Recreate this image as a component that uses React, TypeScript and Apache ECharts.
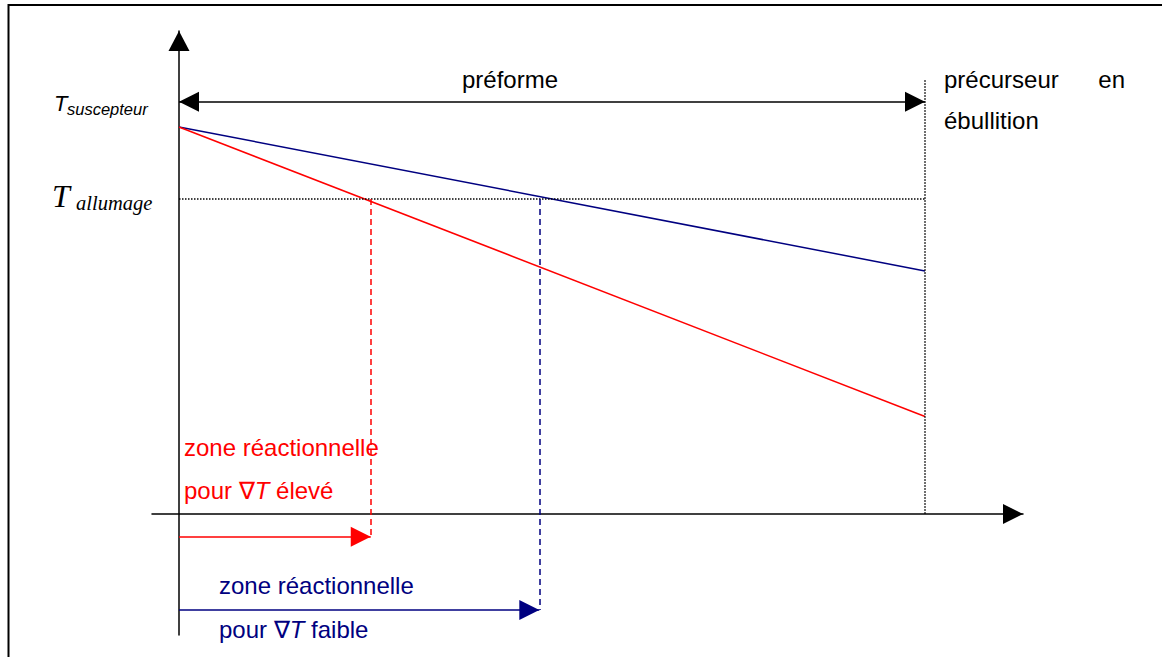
import React, { useEffect, useRef } from "react";
import * as echarts from "echarts";

// Position along the preform (% of length, 0 = susceptor, 100 = boiling precursor)
const positionsPct = [0, 100];
// Temperature profiles (relative units, 100 = T susceptor)
const tempHighGradient = [100, 25.2];
const tempLowGradient = [100, 62.8];
const tSusceptor = 100;
const tIgnition = 81.4;
// Ignition positions (where each profile reaches T allumage)
const ignitionHighX = 25.7;
const ignitionLowX = 48.3;
// Levels of the annotation arrows
const zoneHighLevel = -5.9;
const zoneLowLevel = -24.8;
const preformArrowLevel = 106.5;
const boilingBoundaryTop = 112.1;
// Axis extents
const xExtent = [-3.62, 113.14];
const yExtent = [-31.27, 124.8];

const RED = "#ff0000";
const BLUE = "#000080";
const BLACK = "#000000";
const SANS = "'Liberation Sans', Arial, sans-serif";
const SERIF = "'Liberation Serif', 'Times New Roman', serif";
const FS = 24;

type Pt = [number, number];

function markSeries(
  name: string,
  color: string,
  lineType: any,
  symbol: [string, string],
  lines: [Pt, Pt][],
  width = 1.5
) {
  return {
    type: "line",
    name,
    data: [],
    silent: true,
    clip: false,
    markLine: {
      silent: true,
      animation: false,
      symbol,
      symbolSize: [20, 20],
      symbolOffset: [
        [0, 10],
        [0, 10],
      ],
      label: { show: false },
      emphasis: { disabled: true },
      lineStyle: { color, type: lineType, width },
      itemStyle: { color },
      data: lines.map(([a, b]) => [{ coord: a }, { coord: b }]),
    },
  };
}

export default function App() {
  const ref = useRef<HTMLDivElement>(null);

  useEffect(() => {
    if (!ref.current) return;
    const chart = echarts.init(ref.current, null, { renderer: "svg" });

    const axisCommon = {
      type: "value",
      axisTick: { show: false },
      axisLabel: { show: false },
      splitLine: { show: false },
    };

    const option: any = {
      animation: false,
      backgroundColor: "#ffffff",
      grid: { left: 152, right: 139, top: 31, bottom: 22, containLabel: false },
      xAxis: {
        ...axisCommon,
        min: xExtent[0],
        max: xExtent[1],
        axisLine: {
          show: true,
          onZero: true,
          symbol: ["none", "triangle"],
          symbolSize: [20, 20],
          symbolOffset: [0, -10],
          lineStyle: { color: BLACK, width: 1.5 },
        },
      },
      yAxis: {
        ...axisCommon,
        min: yExtent[0],
        max: yExtent[1],
        axisLine: {
          show: true,
          onZero: true,
          symbol: ["none", "triangle"],
          symbolSize: [21, 20],
          symbolOffset: [0, -10],
          lineStyle: { color: BLACK, width: 1.5 },
        },
      },
      series: [
        {
          type: "line",
          name: "∇T faible",
          data: positionsPct.map((x, i) => [x, tempLowGradient[i]]),
          symbol: "none",
          silent: true,
          clip: false,
          lineStyle: { color: BLUE, width: 1.5 },
        },
        {
          type: "line",
          name: "∇T élevé",
          data: positionsPct.map((x, i) => [x, tempHighGradient[i]]),
          symbol: "none",
          silent: true,
          clip: false,
          lineStyle: { color: RED, width: 1.5 },
        },
        markSeries("seuils", BLACK, [1.5, 1.5], ["none", "none"], [
          [
            [positionsPct[0], tIgnition],
            [positionsPct[1], tIgnition],
          ],
          [
            [positionsPct[1], boilingBoundaryTop],
            [positionsPct[1], 0],
          ],
        ]),
        markSeries("préforme", BLACK, "solid", ["triangle", "triangle"], [
          [
            [positionsPct[0], preformArrowLevel],
            [positionsPct[1], preformArrowLevel],
          ],
        ]),
        markSeries("allumage élevé", RED, [6, 4], ["none", "none"], [
          [
            [ignitionHighX, tIgnition],
            [ignitionHighX, zoneHighLevel],
          ],
        ]),
        markSeries("allumage faible", BLUE, [6, 4], ["none", "none"], [
          [
            [ignitionLowX, tIgnition],
            [ignitionLowX, zoneLowLevel],
          ],
        ]),
        markSeries("zone élevé", RED, "solid", ["none", "triangle"], [
          [
            [positionsPct[0], zoneHighLevel],
            [ignitionHighX, zoneHighLevel],
          ],
        ]),
        markSeries("zone faible", BLUE, "solid", ["none", "triangle"], [
          [
            [positionsPct[0], zoneLowLevel],
            [ignitionLowX, zoneLowLevel],
          ],
        ]),
      ],
      graphic: [
        {
          type: "rect",
          silent: true,
          z: -10,
          shape: { x: 8.5, y: 5, width: 1180, height: 720 },
          style: { fill: "none", stroke: BLACK, lineWidth: 2 },
        },
        {
          type: "text",
          x: 54,
          y: 103.5,
          style: {
            text: "T",
            fontFamily: SANS,
            fontStyle: "italic",
            fontSize: 22,
            fill: BLACK,
            verticalAlign: "middle",
          },
        },
        {
          type: "text",
          x: 67,
          y: 108.5,
          style: {
            text: "suscepteur",
            fontFamily: SANS,
            fontStyle: "italic",
            fontSize: 16.5,
            fill: BLACK,
            verticalAlign: "middle",
          },
        },
        {
          type: "text",
          x: 52,
          y: 196,
          style: {
            text: "T",
            fontFamily: SERIF,
            fontStyle: "italic",
            fontSize: 32,
            fill: BLACK,
            verticalAlign: "middle",
          },
        },
        {
          type: "text",
          x: 76,
          y: 203,
          style: {
            text: "allumage",
            fontFamily: SERIF,
            fontStyle: "italic",
            fontSize: 20.5,
            fill: BLACK,
            verticalAlign: "middle",
          },
        },
        {
          type: "text",
          x: 462,
          y: 79,
          style: { text: "préforme", fontFamily: SANS, fontSize: FS, fill: BLACK, verticalAlign: "middle" },
        },
        {
          type: "text",
          x: 944,
          y: 79,
          style: { text: "précurseur", fontFamily: SANS, fontSize: FS, fill: BLACK, verticalAlign: "middle" },
        },
        {
          type: "text",
          x: 1125,
          y: 79,
          style: { text: "en", fontFamily: SANS, fontSize: FS, fill: BLACK, align: "right", verticalAlign: "middle" },
        },
        {
          type: "text",
          x: 944,
          y: 120,
          style: { text: "ébullition", fontFamily: SANS, fontSize: FS, fill: BLACK, verticalAlign: "middle" },
        },
        {
          type: "text",
          x: 184,
          y: 447,
          style: { text: "zone réactionnelle", fontFamily: SANS, fontSize: FS, fill: RED, verticalAlign: "middle" },
        },
        {
          type: "text",
          x: 184,
          y: 490,
          style: {
            text: "pour ∇{it|T} élevé",
            fontFamily: SANS,
            fontSize: FS,
            fill: RED,
            verticalAlign: "middle",
            rich: { it: { fontFamily: SANS, fontSize: FS, fontStyle: "italic", fill: RED } },
          },
        },
        {
          type: "text",
          x: 219,
          y: 585,
          style: { text: "zone réactionnelle", fontFamily: SANS, fontSize: FS, fill: BLUE, verticalAlign: "middle" },
        },
        {
          type: "text",
          x: 219,
          y: 629,
          style: {
            text: "pour ∇{it|T} faible",
            fontFamily: SANS,
            fontSize: FS,
            fill: BLUE,
            verticalAlign: "middle",
            rich: { it: { fontFamily: SANS, fontSize: FS, fontStyle: "italic", fill: BLUE } },
          },
        },
      ],
    };

    chart.setOption(option);
    return () => chart.dispose();
  }, []);

  return (
    <div
      ref={ref}
      style={{ position: "fixed", left: 0, top: 0, width: 1162, height: 657, background: "#fff" }}
    />
  );
}
